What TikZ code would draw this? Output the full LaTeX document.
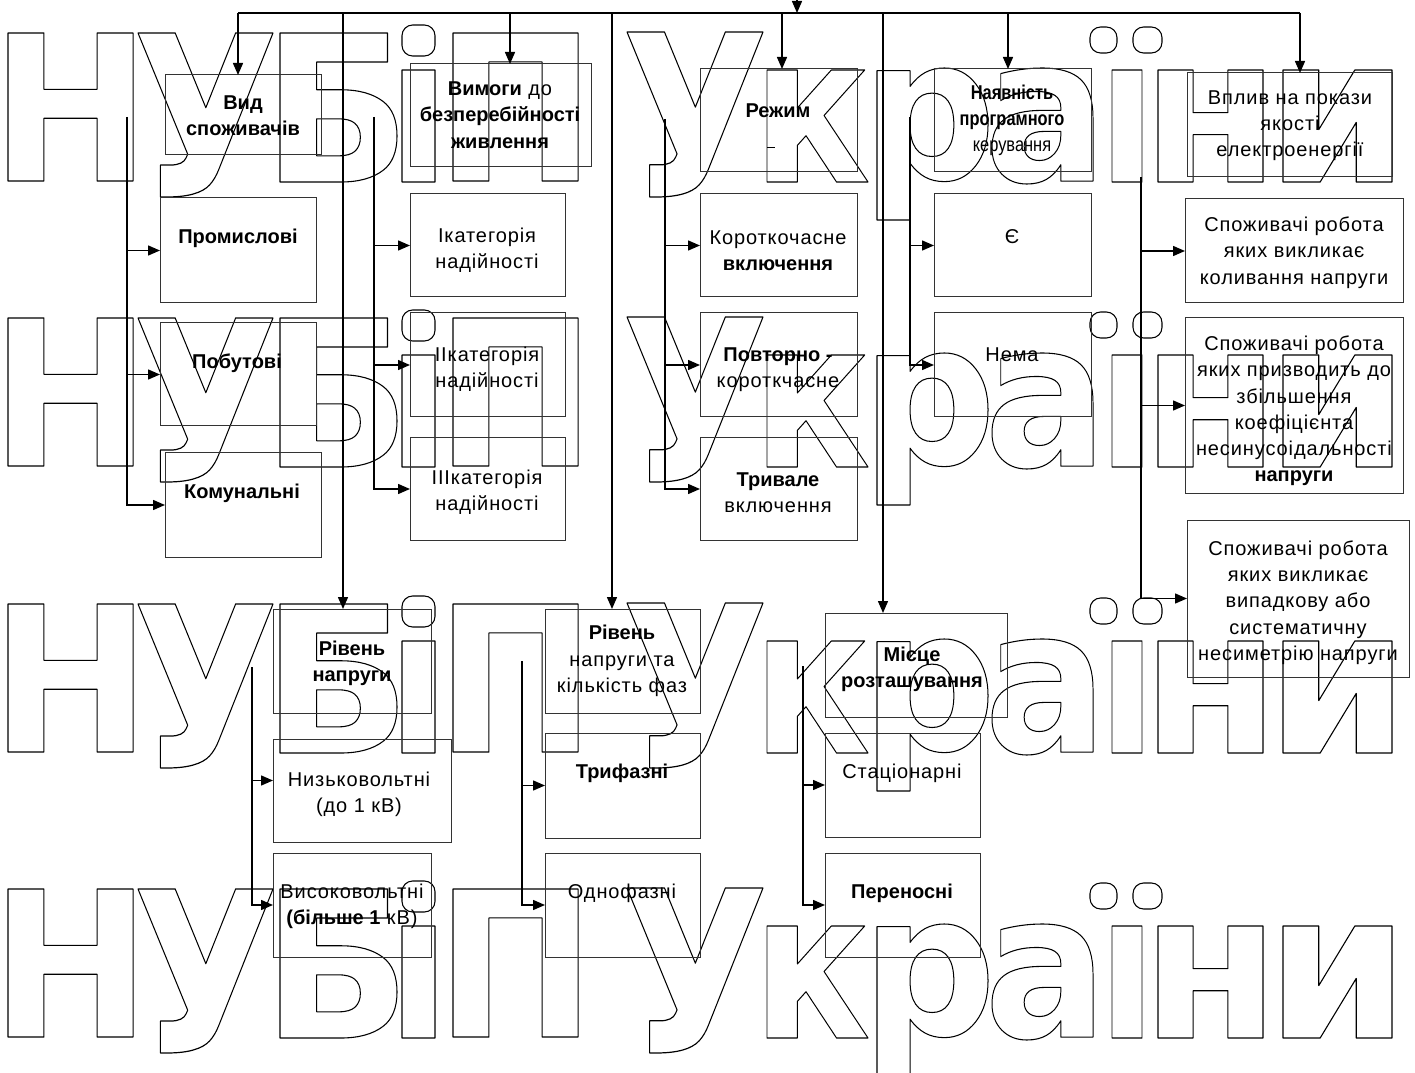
\documentclass[tikz,border=0pt]{standalone}
\usepackage{fontspec}
\usepackage{graphicx}
\setmainfont{Liberation Sans}[UprightFeatures={LetterSpace=4.5}]
\newfontfamily\wmfont{DejaVu Sans}
\newfontfamily\condfont[FakeStretch=0.82]{Liberation Sans}
\usetikzlibrary{arrows.meta}
\newbox\wmbox
\newcount\wmcnt
\newcommand{\wmglyph}[3]{%
  \wmfont\bfseries\fontsize{150pt}{150pt}\selectfont
  \count255=\XeTeXcharglyph`#1\relax
  \dimen0=\XeTeXglyphbounds1 \count255
  \dimen2=\XeTeXglyphbounds3 \count255
  \dimen4=\XeTeXglyphbounds2 \count255
  \dimen6=\XeTeXglyphbounds4 \count255
  \ifdim\dimen6<0pt \dimen6=-\dimen6\fi
  \setbox\wmbox=\hbox{\kern-\dimen0\special{pdf:literal direct 1 Tr 0.8 w 1 j}#1\special{pdf:literal direct 0 Tr}\kern-\dimen2}%
  \ht\wmbox=\dimen4 \dp\wmbox=\dimen6
  \resizebox*{#2pt}{#3pt}{\box\wmbox}}
\newcommand{\wmg}[5]{%
  \global\advance\wmcnt by 1
  \pgfmathsetmacro\wmW{(#4-#2)*0.75}%
  \pgfmathsetmacro\wmH{((#5)-(#3))*0.75}%
  \pgfmathsetmacro\wmY{#5}%
  \node[inner sep=0pt, outer sep=0pt, anchor=south west] (wm\the\wmcnt) at (#2,\wmY) {\wmglyph{#1}{\wmW}{\wmH}};}
\newcommand{\wmrow}[1]{%
  \wmg{Н}{8}{33+#1}{133}{181+#1}
  \wmg{У}{138}{33+#1}{273}{197+#1}
  \wmg{Б}{280}{33+#1}{397}{182+#1}
  \wmg{ı}{402}{70+#1}{435}{182+#1}
  \draw[wmdot] (402,{25+#1}) rectangle (435,{56+#1});
  \wmg{П}{453}{33+#1}{578}{181+#1}
  \wmg{У}{627}{32+#1}{763}{197+#1}
  \wmg{к}{767}{70+#1}{868}{182+#1}
  \wmg{р}{877}{68+#1}{988}{220+#1}
  \wmg{а}{992}{68+#1}{1093}{184+#1}
  \wmg{ı}{1112}{70+#1}{1142}{182+#1}
  \draw[wmdot] (1090,{27+#1}) rectangle (1117,{53+#1});
  \draw[wmdot] (1133,{27+#1}) rectangle (1162,{53+#1});
  \wmg{н}{1158}{70+#1}{1263}{182+#1}
  \wmg{и}{1283}{70+#1}{1392}{182+#1}}
\newcommand{\bx}[5]{\node[box, minimum width={(#4-#2)*0.75pt}, minimum height={(#5-#3)*0.75pt}] (#1) at ({(#2+#4)/2},{(#3+#5)/2}) {};}
\begin{document}
\begin{tikzpicture}[x=0.75pt,y=-0.75pt,
  box/.style={draw=black!80, line width=0.75pt, inner sep=0pt, outer sep=0pt},
  txt/.style={align=center, inner sep=0pt, font=\fontsize{15pt}{19.7pt}\selectfont},
  conn/.style={line width=1.1pt},
  wmdot/.style={line width=0.8pt, rounded corners=8pt},
  arr/.style={line width=1.1pt, -{Triangle[length=9pt,width=7.5pt]}}]
\useasboundingbox (0,0) rectangle (1415,1073);
% watermark
\begin{scope}
\wmrow{0}
\wmrow{285}
\wmrow{571}
\wmrow{856}
\end{scope}
% boxes
\bx{vid}{165}{75}{321}{155}
\bx{vym}{410}{64}{591}{167}
\bx{rezh}{700}{69}{857}{172}
\bx{nayav}{934}{69}{1091}{172}
\bx{vplyv}{1187}{73}{1392}{177}
\bx{prom}{160}{198}{316}{303}
\bx{pobut}{160}{323}{316}{426}
\bx{komun}{165}{453}{321}{557}
\bx{cat1}{410}{194}{565}{297}
\bx{cat2}{410}{313}{565}{417}
\bx{cat3}{410}{438}{565}{540}
\bx{korot}{700}{194}{857}{297}
\bx{povt}{700}{313}{857}{417}
\bx{tryv}{700}{438}{857}{540}
\bx{ye}{934}{194}{1091}{297}
\bx{nema}{934}{313}{1091}{417}
\bx{s1}{1185}{199}{1403}{303}
\bx{s2}{1185}{318}{1403}{493}
\bx{s3}{1187}{520}{1409}{677}
\bx{rivn}{273}{609}{431}{713}
\bx{rivf}{545}{609}{700}{713}
\bx{nizk}{273}{739}{451}{842}
\bx{vysok}{273}{853}{431}{957}
\bx{tryf}{545}{733}{700}{838}
\bx{odnof}{545}{853}{700}{957}
\bx{mists}{825}{613}{1007}{717}
\bx{stats}{825}{733}{980}{837}
\bx{peren}{825}{853}{980}{957}
% texts
\node[txt] (vid-t) at (243,115.5) {\textbf{Вид}\\\textbf{споживачів}};
\node[txt] (vym-t) at (500,115) {\textbf{Вимоги} до\\\textbf{безперебійності}\\\textbf{живлення}};
\node[txt] (rezh-t) at (778,111) {\textbf{Режим}};
\draw[line width=0.6pt] (rezh.north west) ++(67,78) -- ++(8,0);
\node[txt, font=\fontsize{15pt}{19.7pt}\condfont] (nayav-t) at (1012,120.5) {\textbf{Наявність}\\\textbf{програмного}\\керування};
\node[txt] (vplyv-t) at (1290,125.5) {Вплив на покази\\якості\\електроенергії};
\node[txt] (prom-t) at (238,238) {\textbf{Промислові}};
\node[txt] (pobut-t) at (237,363) {\textbf{Побутові}};
\node[txt] (komun-t) at (242,493) {\textbf{Комунальні}};
\node[txt] (cat1-t) at (487,250.5) {Ікатегорія\\надійності};
\node[txt] (cat2-t) at (487,369.5) {ІІкатегорія\\надійності};
\node[txt] (cat3-t) at (487,492.5) {ІІІкатегорія\\надійності};
\node[txt] (korot-t) at (778,250.5) {Короткочасне\\\textbf{включення}};
\node[txt] (povt-t) at (778,369.5) {\textbf{Повторно -}\\короткчасне};
\node[txt] (tryv-t) at (778,493) {\textbf{Тривале}\\включення};
\node[txt] (ye-t) at (1012,237) {Є};
\node[txt] (nema-t) at (1012,355) {Нема};
\node[txt] (s1-t) at (1294,252.5) {Споживачі робота\\яких викликає\\коливання напруги};
\node[txt] (s2-t) at (1294,411) {Споживачі робота\\яких призводить до\\збільшення\\коефіцієнта\\несинусоідальності\\\textbf{напруги}};
\node[txt] (s3-t) at (1298,602.5) {Споживачі робота\\яких викликає\\випадкову або\\систематичну\\несиметрію напруги};
\node[txt] (rivn-t) at (352,663.5) {\textbf{Рівень}\\\textbf{напруги}};
\node[txt] (rivf-t) at (622,661) {\textbf{Рівень}\\напруги та\\кількість фаз};
\node[txt] (nizk-t) at (359,794) {Низьковольтні\\(до 1 кВ)};
\node[txt] (vysok-t) at (352,906.5) {Високовольтні\\\textbf{(більше 1} кВ)};
\node[txt] (tryf-t) at (622,773) {\textbf{Трифазні}};
\node[txt] (odnof-t) at (622,893) {Однофазні};
\node[txt] (mists-t) at (912,669.5) {\textbf{Місце}\\\textbf{розташування}};
\node[txt] (stats-t) at (902,773) {Стаціонарні};
\node[txt] (peren-t) at (902,893) {\textbf{Переносні}};
% bus
\coordinate (in) at (797,0);
\coordinate (busL) at (238,13);
\coordinate (busR) at (1300,13);
\draw[conn] (busL) -- (busR);
\draw[arr] (in) -- (in |- busL);
\coordinate (d1) at (238,13);
\coordinate (d2) at (343,13);
\coordinate (d3) at (510,13);
\coordinate (d4) at (612,13);
\coordinate (d5) at (782,13);
\coordinate (d6) at (883,13);
\coordinate (d7) at (1008,13);
\coordinate (d8) at (1300,13);
\draw[arr] (d1) -- (d1 |- vid.north);
\draw[arr] (d2) -- (d2 |- rivn.north);
\draw[arr] (d3) -- (d3 |- vym.north);
\draw[arr] (d4) -- (d4 |- rivf.north);
\draw[arr] (d5) -- (d5 |- rezh.north);
\draw[arr] (d6) -- (d6 |- mists.north);
\draw[arr] (d7) -- (d7 |- nayav.north);
\draw[arr] (d8) -- (d8 |- vplyv.north);
% trunks
\coordinate (t1) at (127,117);
\draw[arr] (t1) |- (komun.west);
\draw[arr] (t1 |- prom.west) -- (prom.west);
\draw[arr] (t1 |- pobut.west) -- (pobut.west);
\coordinate (t2) at (374,117);
\draw[arr] (t2) |- (cat3.west);
\draw[arr] (t2 |- cat1.west) -- (cat1.west);
\draw[arr] (t2 |- cat2.west) -- (cat2.west);
\coordinate (t3) at (665,119);
\draw[arr] (t3) |- (tryv.west);
\draw[arr] (t3 |- korot.west) -- (korot.west);
\draw[arr] (t3 |- povt.west) -- (povt.west);
\coordinate (t4) at (910,117);
\draw[arr] (t4) |- (nema.west);
\draw[arr] (t4 |- ye.west) -- (ye.west);
\coordinate (t5) at (1141,177);
\draw[arr] (t5) |- (s3.west);
\draw[arr] (t5 |- s1.west) -- (s1.west);
\draw[arr] (t5 |- s2.west) -- (s2.west);
\coordinate (t6) at (252,667);
\draw[arr] (t6) |- (vysok.west);
\draw[arr] ([yshift=7.5pt]t6 |- nizk.west) -- ([yshift=7.5pt]nizk.west);
\coordinate (t7) at (522,661);
\draw[arr] (t7) |- (odnof.west);
\draw[arr] (t7 |- tryf.west) -- (tryf.west);
\coordinate (t8) at (803,666);
\draw[arr] (t8) |- (peren.west);
\draw[arr] (t8 |- stats.west) -- (stats.west);
\end{tikzpicture}
\end{document}
